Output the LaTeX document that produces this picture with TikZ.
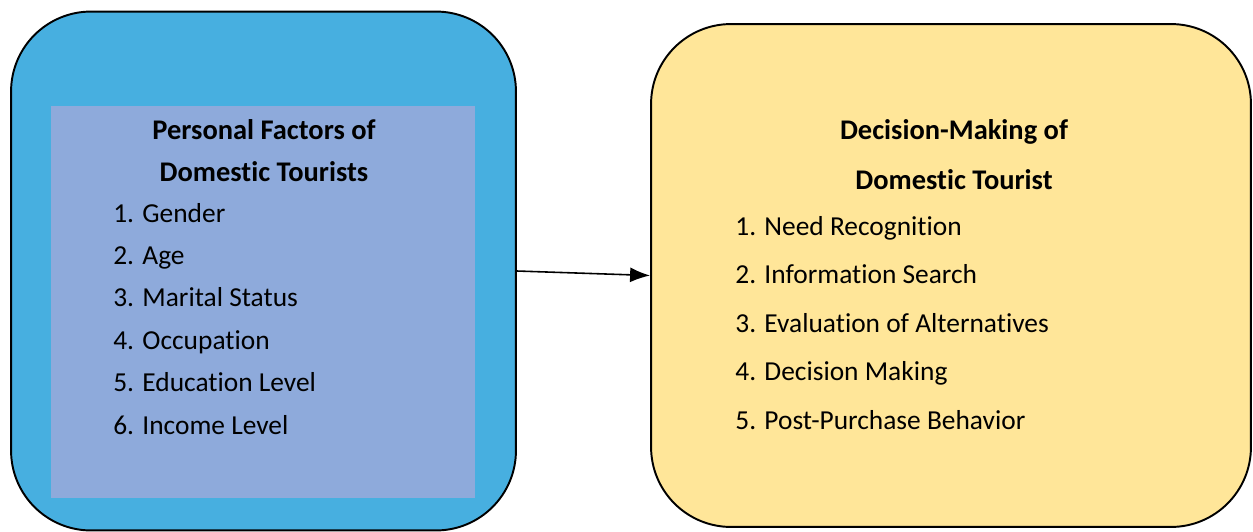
\documentclass[tikz,border=0pt]{standalone}
\usepackage{fontspec}
\setmainfont{Carlito}[Ligatures=CommonOff]
\usetikzlibrary{arrows.meta}
\definecolor{outerblue}{HTML}{47AFE0}
\definecolor{innerblue}{HTML}{8EAADB}
\definecolor{paleyellow}{HTML}{FFE699}

\begin{document}
\begin{tikzpicture}[x=0.02cm, y=-0.02cm,
   bigbox/.style={rectangle, rounded corners=1.6cm, draw, line width=1.1pt},
   item/.style={anchor=base west, inner sep=0pt, font=\fontsize{15.6}{18}\selectfont},
   heading/.style={anchor=base, inner sep=0pt, font=\bfseries\fontsize{16.2}{18}\selectfont}]
   \useasboundingbox (0,0) rectangle (1253,531);
   \node[bigbox, fill=outerblue, minimum width=10.1cm, minimum height=10.38cm] (personal) at (263.5,271) {};
   \node[rectangle, fill=innerblue, minimum width=8.48cm, minimum height=7.86cm] (traits) at (263,302) {};
   \node[bigbox, fill=paleyellow, minimum width=12cm, minimum height=10.06cm] (decision) at (951,275.5) {};
   \draw[-{Latex[length=4mm, width=3mm]}, line width=0.9pt] (personal.east) -- (decision.west);
   % left box text
   \node[heading] (ptitle1) at (264,139) {Personal Factors of};
   \node[heading] (ptitle2) at (264,181) {Domestic Tourists};
   \foreach \t [count=\i] in {Gender, Age, Marital Status, Occupation, Education Level, Income Level}
      \node[item] (p\i) at (113,{222+42.4*(\i-1)}) {\i. \t};
   % right box text
   \node[heading] (dtitle1) at (954,139) {Decision-Making of};
   \node[heading] (dtitle2) at (954,189) {Domestic Tourist};
   \foreach \t [count=\i] in {Need Recognition, Information Search, Evaluation of Alternatives, Decision Making, Post-Purchase Behavior}
      \node[item] (d\i) at (735,{235+48.5*(\i-1)}) {\i. \t};
\end{tikzpicture}
\end{document}
